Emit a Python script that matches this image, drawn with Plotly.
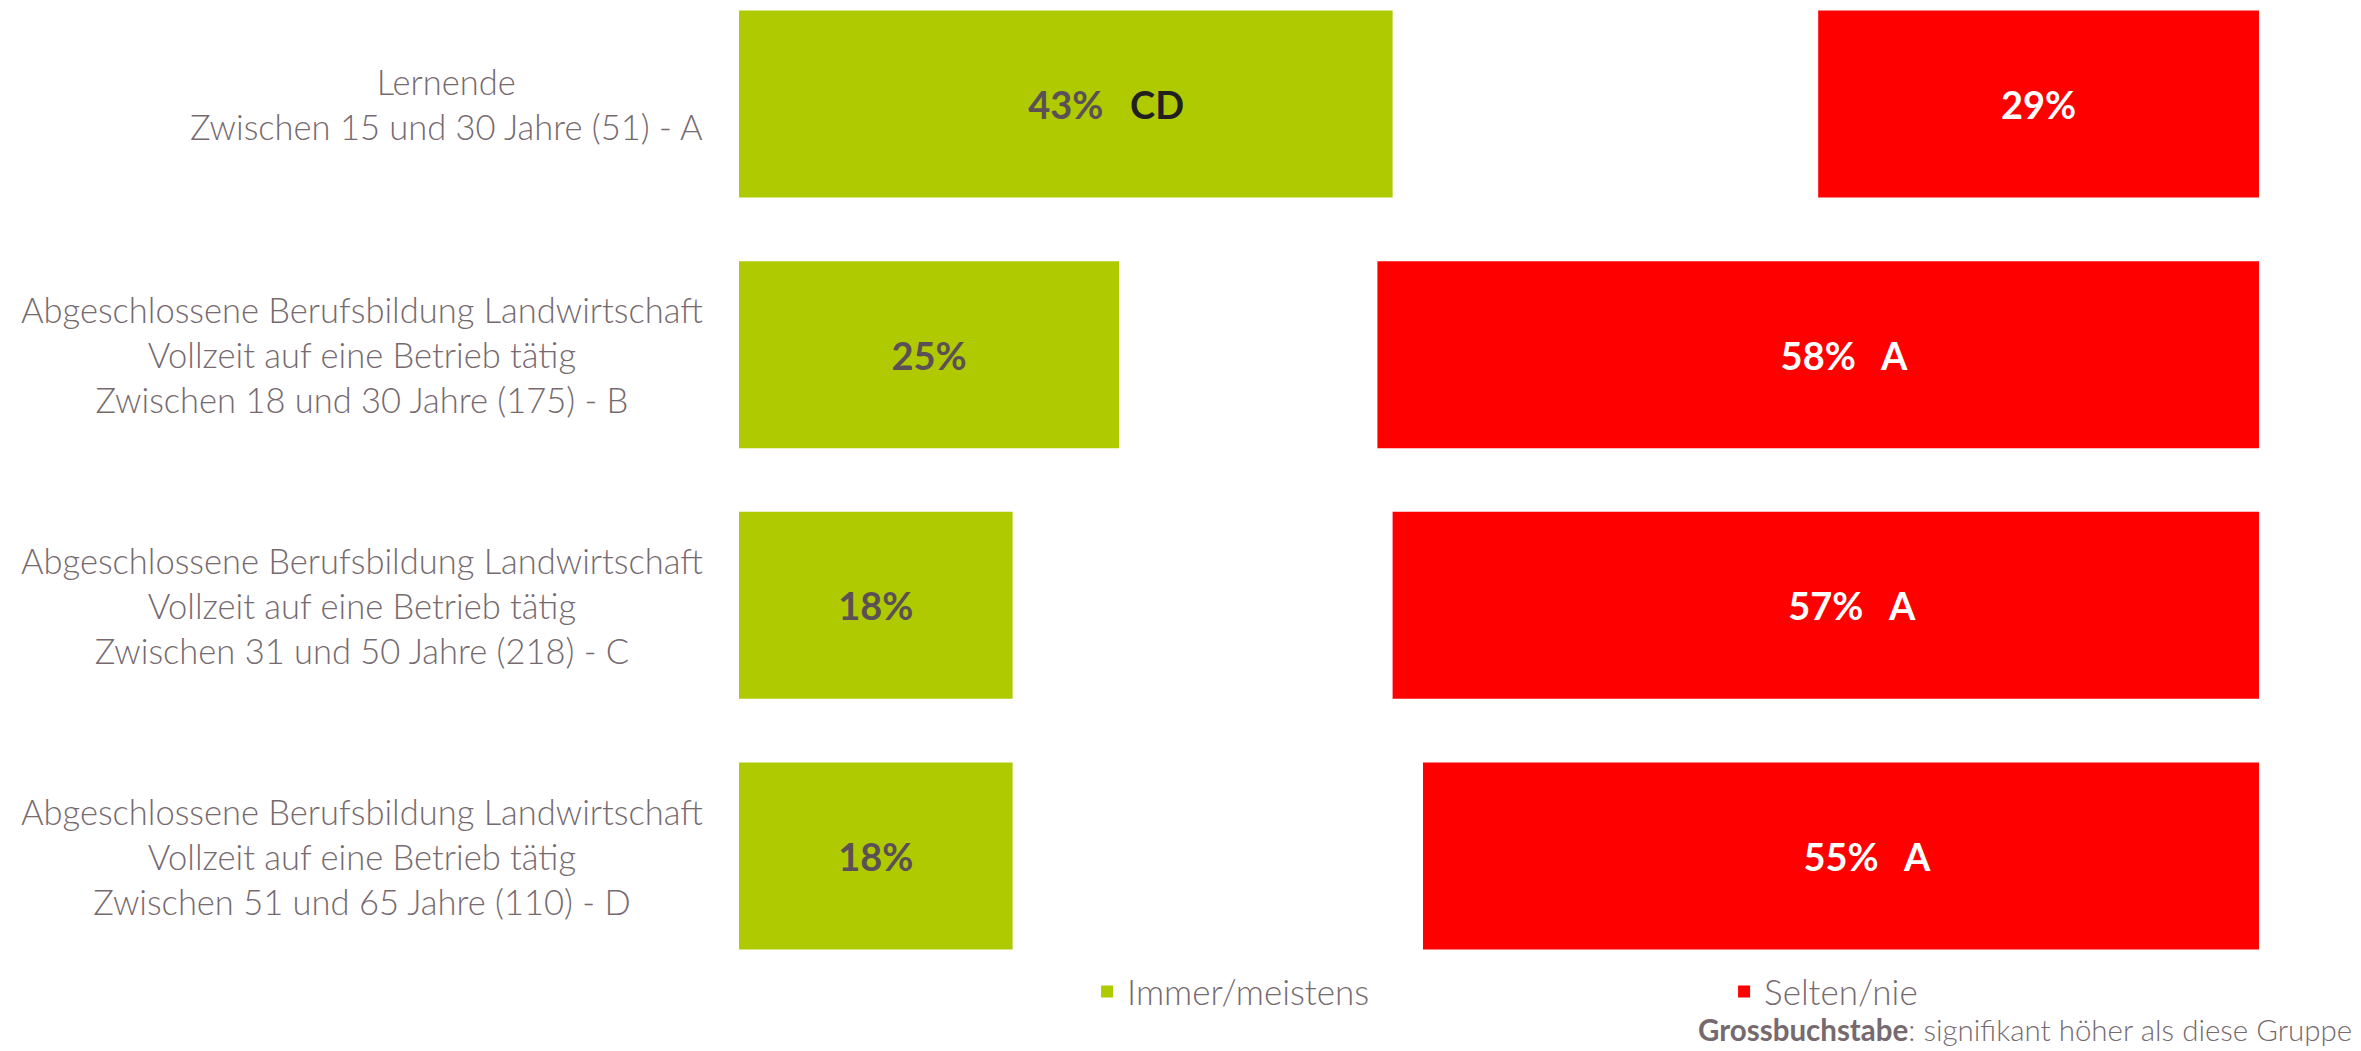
import plotly.graph_objects as go

# Survey groups (top to bottom) and the share of each answer category, in %
groups = [
    "Lernende<br>Zwischen 15 und 30 Jahre (51) - A",
    "Abgeschlossene Berufsbildung Landwirtschaft<br>Vollzeit auf eine Betrieb tätig<br>Zwischen 18 und 30 Jahre (175) - B",
    "Abgeschlossene Berufsbildung Landwirtschaft<br>Vollzeit auf eine Betrieb tätig<br>Zwischen 31 und 50 Jahre (218) - C",
    "Abgeschlossene Berufsbildung Landwirtschaft<br>Vollzeit auf eine Betrieb tätig<br>Zwischen 51 und 65 Jahre (110) - D",
]
immer_meistens = [43, 25, 18, 18]
selten_nie = [29, 58, 57, 55]
# Significance letters (group is significantly higher than the listed groups)
sig_immer = ["CD", "", "", ""]
sig_selten = ["", "A", "A", "A"]

GREEN = "#AFCA00"
RED = "#FF0000"
LABEL_GREY = "#766A6F"
VALUE_GREY = "#5B5055"
FONT = "Lato"

W, H = 2361, 1051
M_L, M_R, M_T, M_B = 739, 102, 0, 91

ypos = list(range(len(groups)))

fig = go.Figure()

# "Immer/meistens" grows from the left edge
fig.add_trace(go.Bar(
    name="Immer/meistens",
    orientation="h",
    y=ypos,
    x=immer_meistens,
    base=[0] * len(immer_meistens),
    width=0.746,
    marker=dict(color=GREEN, line=dict(width=0)),
    text=[f"{v}%" for v in immer_meistens],
    textposition="inside",
    insidetextanchor="middle",
    textangle=0,
    textfont=dict(family=FONT, size=38, color=VALUE_GREY, weight="bold"),
    hoverinfo="skip",
))

# "Selten/nie" is anchored to the right edge (100 %)
fig.add_trace(go.Bar(
    name="Selten/nie",
    orientation="h",
    y=ypos,
    x=selten_nie,
    base=[100 - v for v in selten_nie],
    width=0.746,
    marker=dict(color=RED, line=dict(width=0)),
    text=[f"{v}%" for v in selten_nie],
    textposition="inside",
    insidetextanchor="middle",
    textangle=0,
    textfont=dict(family=FONT, size=38, color="white", weight="bold"),
    hoverinfo="skip",
))

annotations = []

# Group labels, centred lines, block aligned to the left of the bars
for i, g in enumerate(groups):
    annotations.append(dict(
        xref="paper", yref="y", x=0, y=i,
        xanchor="right", yanchor="middle", xshift=-34,
        text=g, showarrow=False, align="center",
        font=dict(family=FONT, size=34.5, color=LABEL_GREY, weight=300),
    ))

# Significance letters placed right of the value labels
for i, (v, s) in enumerate(zip(immer_meistens, sig_immer)):
    if s:
        annotations.append(dict(
            xref="x", yref="y", x=v / 2, y=i, xanchor="left", yanchor="middle",
            xshift=62, text=f"<b>{s}</b>", showarrow=False,
            font=dict(family=FONT, size=38, color="#231F20"),
        ))
for i, (v, s) in enumerate(zip(selten_nie, sig_selten)):
    if s:
        annotations.append(dict(
            xref="x", yref="y", x=100 - v / 2, y=i, xanchor="left", yanchor="middle",
            xshift=60, text=f"<b>{s}</b>", showarrow=False,
            font=dict(family=FONT, size=38, color="white"),
        ))

# Footnote
annotations.append(dict(
    xref="paper", yref="paper", x=(W - 7 - M_L) / (W - M_L - M_R), y=-0.072,
    xanchor="right", yanchor="middle", showarrow=False,
    text="<b>Grossbuchstabe</b>: signifikant höher als diese Gruppe",
    font=dict(family=FONT, size=29.5, color=LABEL_GREY, weight=300),
))

fig.update_layout(
    width=W, height=H,
    margin=dict(l=M_L, r=M_R, t=M_T, b=M_B, autoexpand=False),
    paper_bgcolor="white", plot_bgcolor="white",
    barmode="overlay",
    showlegend=True,
    legend=dict(
        orientation="h",
        x=0.229, y=-0.033, xanchor="left", yanchor="middle",
        entrywidth=592, entrywidthmode="pixels",
        font=dict(family=FONT, size=35, color=LABEL_GREY, weight=300),
        itemclick=False, itemdoubleclick=False,
        traceorder="normal",
    ),
    xaxis=dict(range=[0, 100], visible=False, fixedrange=True),
    yaxis=dict(range=[3.4148, -0.4148], visible=False, fixedrange=True),
    annotations=annotations,
)

fig.write_html("out.html")
